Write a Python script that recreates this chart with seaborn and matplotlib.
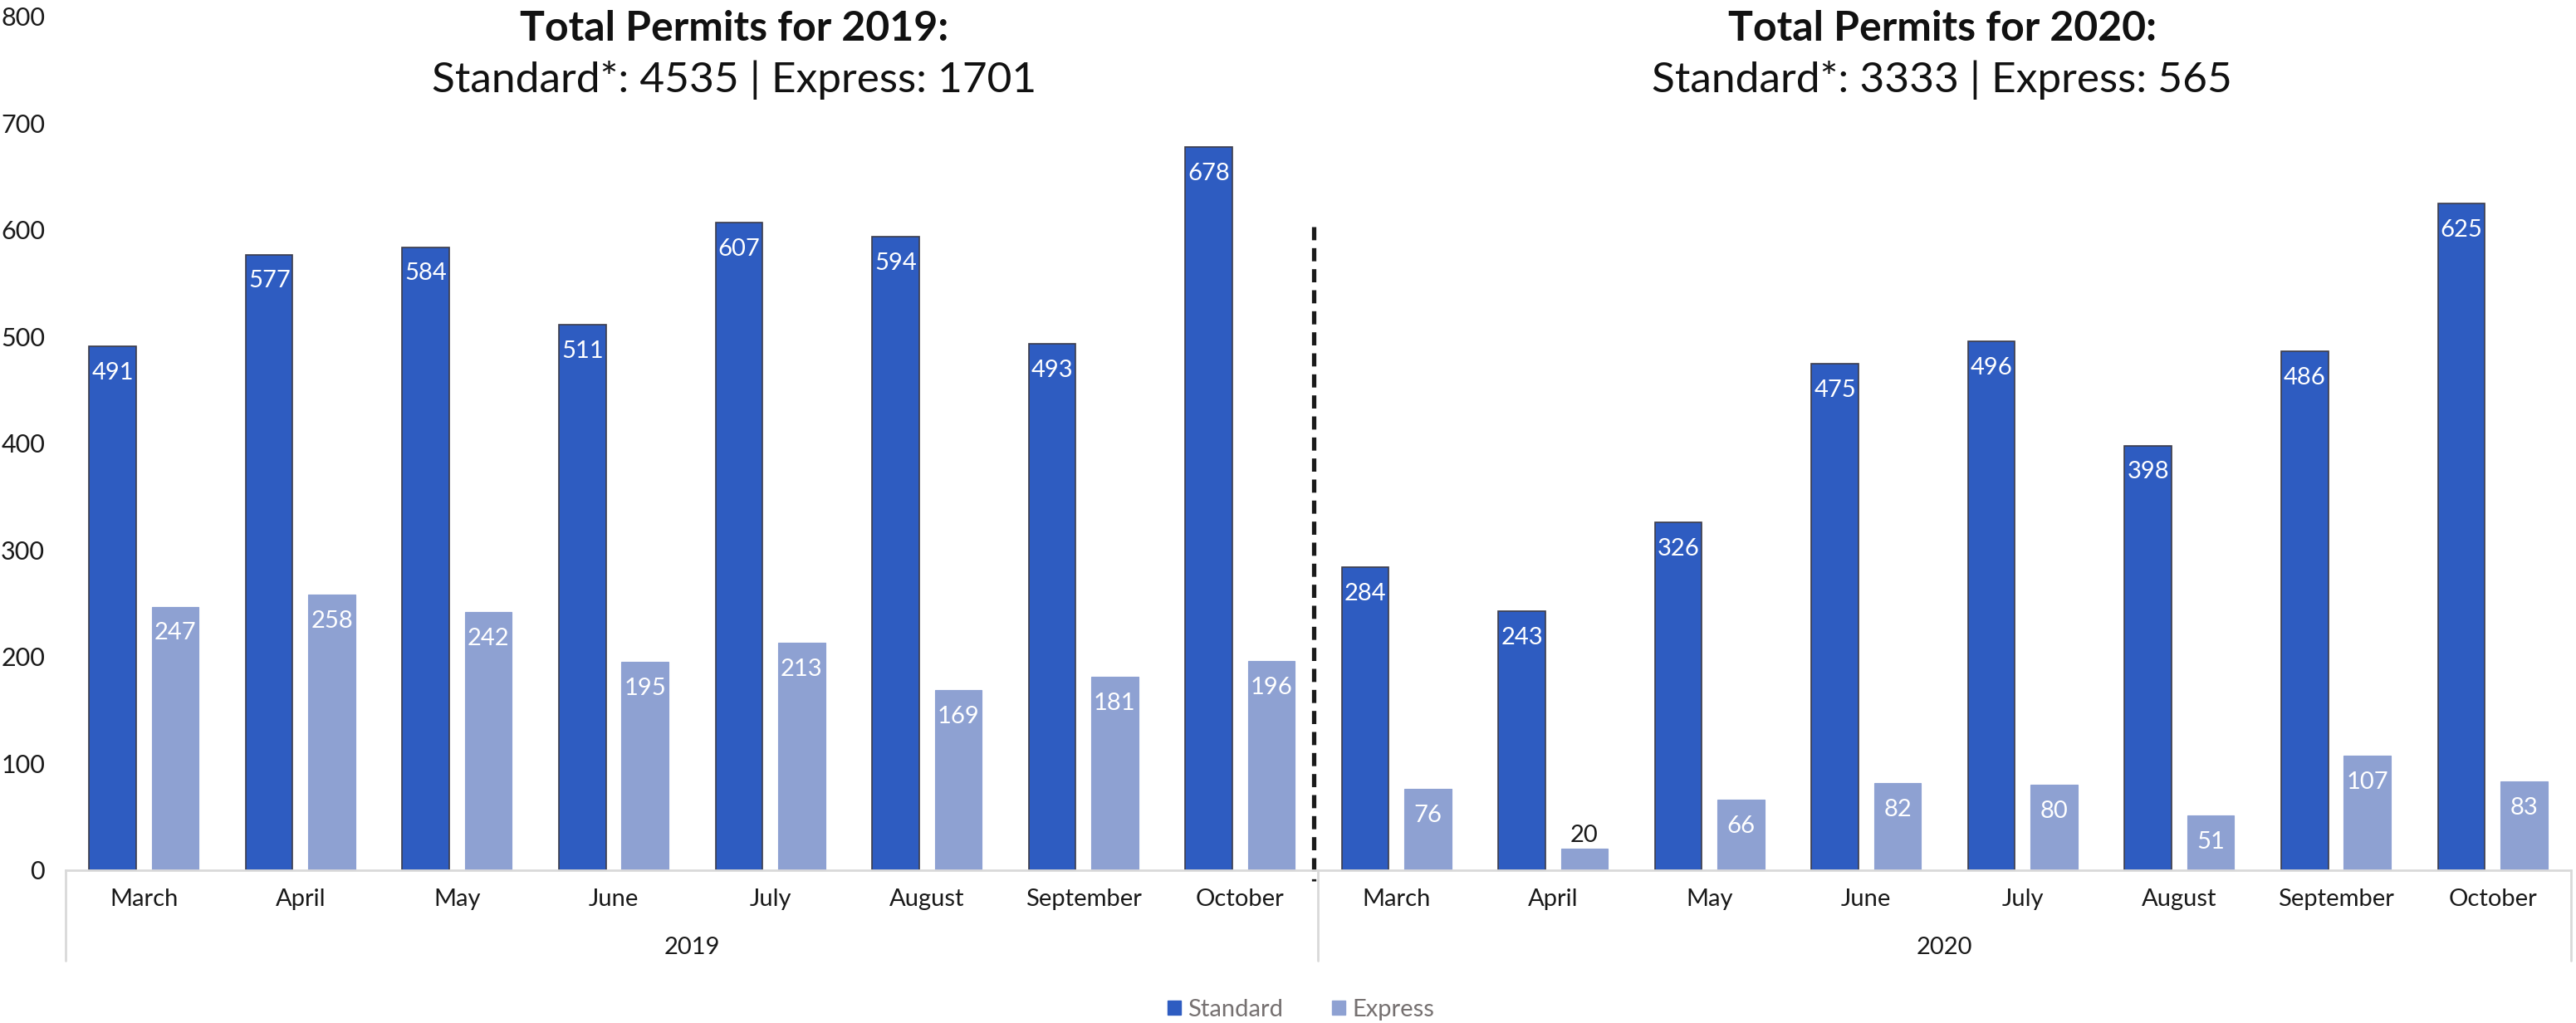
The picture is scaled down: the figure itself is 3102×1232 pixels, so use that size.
import matplotlib
matplotlib.use("Agg")
import matplotlib.pyplot as plt
from matplotlib.patches import Patch
from matplotlib import font_manager
import seaborn as sns
import pandas as pd

# ---------------- data ----------------
months = ["March", "April", "May", "June", "July", "August", "September", "October"]
years = ["2019", "2020"]
standard_2019 = [491, 577, 584, 511, 607, 594, 493, 678]
express_2019 = [247, 258, 242, 195, 213, 169, 181, 196]
standard_2020 = [284, 243, 326, 475, 496, 398, 486, 625]
express_2020 = [76, 20, 66, 82, 80, 51, 107, 83]
series_names = ["Standard", "Express"]
title_lines_2019 = ["Total Permits for 2019:", "Standard*: 4535 | Express: 1701"]
title_lines_2020 = ["Total Permits for 2020:", "Standard*: 3333 | Express: 565"]
yticks = [0, 100, 200, 300, 400, 500, 600, 700, 800]

# ---------------- styling ----------------
C_STD = "#2E5CC1"
C_EXP = "#8EA1D2"
GREY_AX = "#D9D9D9"
sns.set_theme(style="white")
names = {f.name for f in font_manager.fontManager.ttflist}
FONT = "Lato" if "Lato" in names else "DejaVu Sans"
plt.rcParams["font.family"] = [FONT, "DejaVu Sans"]

# build table
rows = []
cats = []
for y, std, exp in [(years[0], standard_2019, express_2019), (years[1], standard_2020, express_2020)]:
    for m, s, e in zip(months, std, exp):
        c = f"{m} {y}"
        cats.append(c)
        rows.append({"cat": c, "type": series_names[0], "value": s})
        rows.append({"cat": c, "type": series_names[1], "value": e})
df = pd.DataFrame(rows)

fig = plt.figure(figsize=(31.02, 12.32), dpi=100)
ax = fig.add_axes([0.0255, 0.1494, 0.9725, 0.8344])

sns.barplot(data=df, x="cat", y="value", hue="type", order=cats,
            hue_order=series_names, palette=[C_STD, C_EXP], width=0.8, gap=0.25,
            saturation=1, legend=False, ax=ax)

for bar in ax.containers[0]:
    bar.set_edgecolor("#3C3C4A")
    bar.set_linewidth(1.2)
for bar in ax.containers[1]:
    bar.set_edgecolor(C_EXP)
    bar.set_linewidth(0.8)

# data labels
for cont in ax.containers:
    for bar in cont:
        h = bar.get_height()
        xc = bar.get_x() + bar.get_width() / 2
        if h < 40:
            ax.annotate(f"{int(round(h))}", (xc, h), xytext=(0, 12), textcoords="offset points",
                        ha="center", va="center", color="#1A1A1A", fontsize=21)
        else:
            ax.annotate(f"{int(round(h))}", (xc, h), xytext=(0, -23), textcoords="offset points",
                        ha="center", va="center", color="white", fontsize=21)

ax.set_xlim(-0.5, len(cats) - 0.5)
ax.set_ylim(0, 800)
ax.set_yticks(yticks)
ax.set_yticklabels([str(v) for v in yticks], fontsize=22, color="#1A1A1A")
ax.set_xticks(range(len(cats)))
ax.set_xticklabels(months * 2, fontsize=21, color="#1A1A1A")
ax.tick_params(axis="x", length=0, pad=16)
ax.tick_params(axis="y", length=0, pad=18)
ax.set_xlabel("")
ax.set_ylabel("")
for s in ["top", "right", "left"]:
    ax.spines[s].set_visible(False)
ax.spines["bottom"].set_color(GREY_AX)
ax.spines["bottom"].set_linewidth(2)
ax.grid(False)

# category separators and year labels
trans = ax.get_xaxis_transform()
for xs in [-0.5, 7.5, 15.5]:
    ax.plot([xs, xs], [0, -0.106], transform=trans, color=GREY_AX, lw=2, clip_on=False)
ax.text(3.5, -0.091, years[0], transform=trans, ha="center", va="center", fontsize=21, color="#1A1A1A")
ax.text(11.5, -0.091, years[1], transform=trans, ha="center", va="center", fontsize=21, color="#1A1A1A")

# dashed divider
ax.plot([7.47, 7.47], [603, -10], color="#1A1A1A", lw=3.8, ls=(0, (3.0, 1.8)), clip_on=False)

# titles
for xc, lines in [(0.285, title_lines_2019), (0.754, title_lines_2020)]:
    fig.text(xc, 0.972, lines[0], ha="center", va="center", fontsize=36, fontweight="bold",
             color="#111111")
    fig.text(xc, 0.922, lines[1], ha="center", va="center", fontsize=37,
             color="#111111")

# legend
handles = [Patch(facecolor=C_STD, edgecolor=C_STD), Patch(facecolor=C_EXP, edgecolor=C_EXP)]
fig.legend(handles, series_names, loc="center", bbox_to_anchor=(0.505, 0.013), ncol=2,
           frameon=False, fontsize=21, labelcolor="#767171", handlelength=0.55, handleheight=0.55,
           handletextpad=0.3, columnspacing=2.0)

fig.savefig("out.png", dpi=100)
